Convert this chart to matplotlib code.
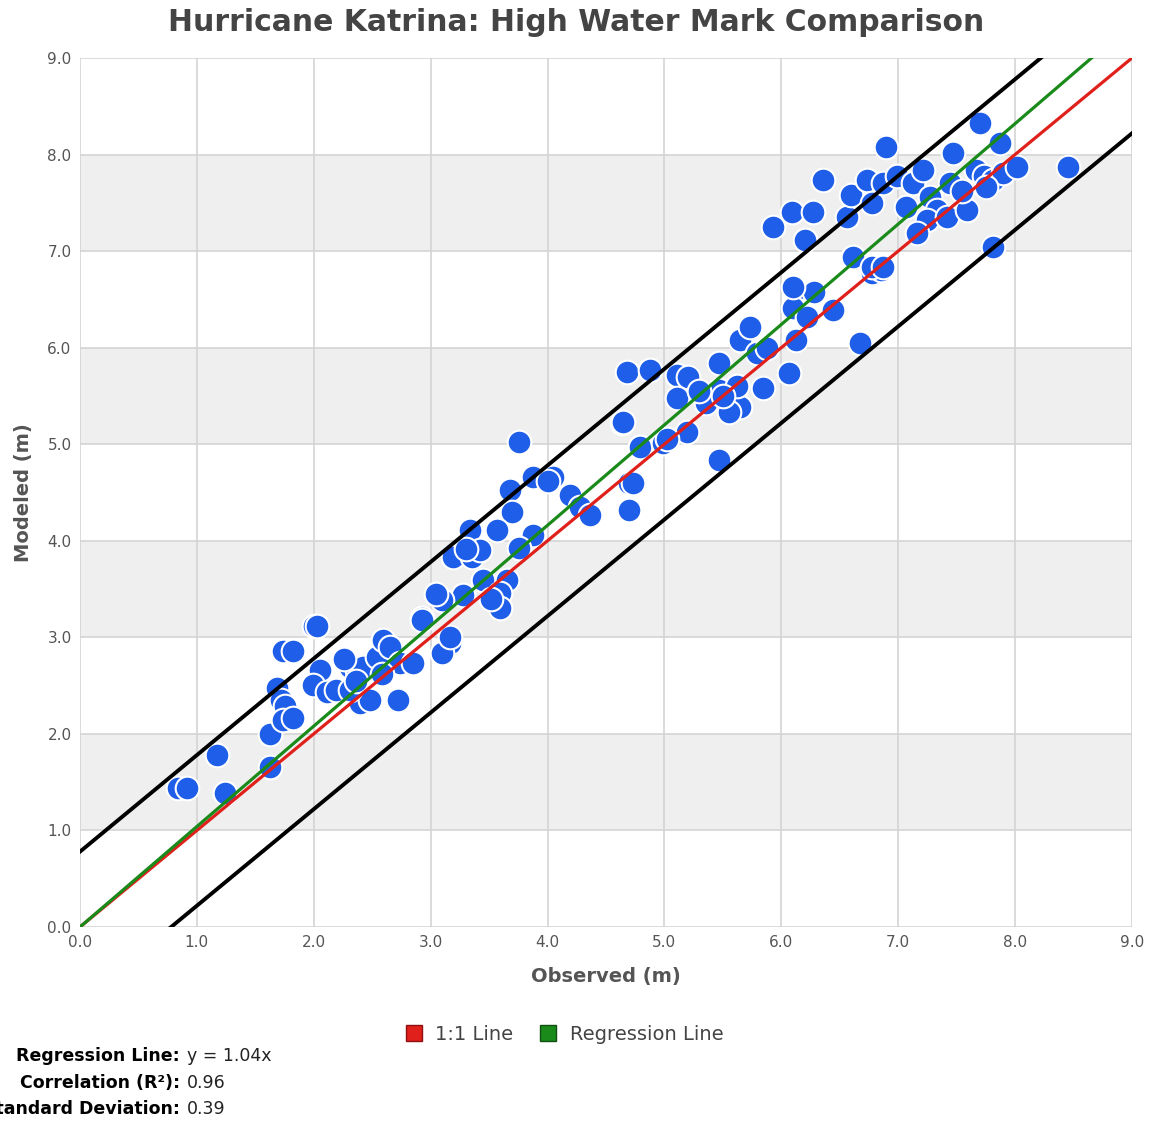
import numpy as np
import matplotlib.pyplot as plt
from matplotlib.patches import Rectangle
from matplotlib.lines import Line2D

# observed vs modeled high water marks (m)
observed = [
    0.84, 0.92, 1.17, 1.24, 1.63, 1.63, 1.69, 1.72, 1.75, 1.74, 1.82, 1.74, 1.82,
    2.00, 2.03, 2.05, 1.99, 2.11, 2.19, 2.31, 2.37, 2.42, 2.54, 2.59, 2.65, 2.74,
    2.85, 2.72, 2.40, 2.48, 2.31, 2.93, 3.17, 3.10, 2.26, 2.36, 2.58,
    3.76, 3.88, 4.05, 3.68, 4.19, 4.28, 4.36, 3.70, 3.57, 3.34, 3.88, 3.76, 3.19,
    3.35, 3.45, 3.65, 3.59, 3.59, 3.28, 3.10, 3.05, 2.93, 3.17, 4.70, 4.70, 4.64,
    4.79, 4.99, 3.42, 3.52, 3.30, 4.00,
    4.68, 4.88, 5.11, 5.20, 5.11, 4.65, 4.79, 4.99, 5.19, 4.73, 5.47, 5.65, 5.73,
    5.79, 5.88, 5.47, 5.36, 5.65, 5.55, 5.84, 6.07, 5.47, 6.12, 6.28, 6.10, 6.22,
    6.44, 6.13, 6.67, 6.78, 6.85, 5.30, 5.62, 5.02, 5.50,
    5.93, 6.09, 6.27, 6.20, 6.36, 6.56, 6.60, 6.73, 6.78, 6.90, 6.87, 6.99, 7.13,
    7.07, 7.21, 7.27, 7.33, 7.25, 7.16, 7.42, 7.47, 7.44, 7.59, 7.67, 7.73, 7.81,
    7.90, 8.02, 7.70, 7.87, 7.81, 8.45, 6.61, 6.78, 6.87, 6.10, 7.55, 7.75,
]
modeled = [
    1.44, 1.44, 1.78, 1.39, 1.66, 2.00, 2.48, 2.35, 2.29, 2.14, 2.16, 2.86, 2.86,
    3.12, 3.12, 2.66, 2.51, 2.43, 2.45, 2.69, 2.66, 2.69, 2.80, 2.97, 2.90, 2.73,
    2.73, 2.35, 2.32, 2.35, 2.45, 3.20, 2.94, 2.84, 2.78, 2.55, 2.62,
    5.02, 4.66, 4.66, 4.53, 4.47, 4.35, 4.27, 4.30, 4.11, 4.11, 4.06, 3.93, 3.83,
    3.83, 3.59, 3.59, 3.46, 3.30, 3.44, 3.39, 3.45, 3.18, 3.00, 4.60, 4.32, 5.22,
    4.97, 5.01, 3.90, 3.40, 3.92, 4.62,
    5.75, 5.77, 5.72, 5.70, 5.48, 5.23, 4.97, 5.01, 5.13, 4.60, 5.84, 6.08, 6.21,
    5.94, 6.00, 5.56, 5.43, 5.39, 5.33, 5.58, 5.74, 4.84, 6.60, 6.58, 6.41, 6.32,
    6.39, 6.08, 6.05, 6.77, 6.80, 5.55, 5.60, 5.05, 5.50,
    7.25, 7.40, 7.40, 7.12, 7.74, 7.35, 7.58, 7.74, 7.50, 8.08, 7.71, 7.78, 7.71,
    7.46, 7.84, 7.56, 7.43, 7.32, 7.19, 7.35, 8.02, 7.71, 7.43, 7.84, 7.78, 7.74,
    7.81, 7.87, 8.33, 8.12, 7.04, 7.87, 6.94, 6.84, 6.84, 6.63, 7.62, 7.66,
]

slope = 1.04
r2 = 0.96
std_dev = 0.39

fig = plt.figure(figsize=(11.52, 11.22), dpi=100)
ax = fig.add_axes([0.0694, 0.1738, 0.9132, 0.7745])

ax.set_xlim(0, 9)
ax.set_ylim(0, 9)

# alternating grey bands
for y0 in [1, 3, 5, 7]:
    ax.add_patch(Rectangle((0, y0), 9, 1, facecolor='#efefef', edgecolor='none', zorder=0))

ax.set_xticks(np.arange(0, 10, 1))
ax.set_yticks(np.arange(0, 10, 1))
ax.set_xticklabels([f"{v:.1f}" for v in range(10)])
ax.set_yticklabels([f"{v:.1f}" for v in range(10)])
ax.grid(True, color='#d4d4d4', linewidth=1.2, zorder=1)
ax.set_axisbelow(True)
ax.tick_params(length=0, labelsize=11, labelcolor='#555555', pad=6)
for s in ax.spines.values():
    s.set_visible(False)

ax.scatter(observed, modeled, s=290, color='#1f5ee8', edgecolors='white',
           linewidths=1.5, zorder=3)

xs = np.array([0, 9])
ax.plot(xs, xs, color='#e0201b', linewidth=2.3, zorder=4)
ax.plot(xs, slope * xs, color='#1a8a1a', linewidth=2.3, zorder=4)
ax.plot(xs, xs + 2 * std_dev, color='black', linewidth=2.8, zorder=4)
ax.plot(xs, xs - 2 * std_dev, color='black', linewidth=2.8, zorder=4)

ax.set_xlabel("Observed (m)", fontsize=14, color='#555555', fontweight='bold', labelpad=12)
ax.set_ylabel("Modeled (m)", fontsize=14, color='#555555', fontweight='bold', labelpad=10)
fig.suptitle("Hurricane Katrina: High Water Mark Comparison", fontsize=21.5,
             fontweight='bold', color='#444444', y=0.993)

handles = [
    Line2D([], [], marker='s', linestyle='none', markersize=11,
           markerfacecolor='#e0201b', markeredgecolor='#901010'),
    Line2D([], [], marker='s', linestyle='none', markersize=11,
           markerfacecolor='#1a8a1a', markeredgecolor='#105010'),
]
fig.legend(handles, ["1:1 Line", "Regression Line"], loc='center',
           bbox_to_anchor=(0.485, 0.078), ncol=2, frameon=False, fontsize=14,
           handletextpad=0.1, columnspacing=0.8, labelcolor='#444444')

# statistics block
labels = ["Regression Line:", "Correlation (R\u00b2):", "Standard Deviation:"]
values = [f"y = {slope:.2f}x", f"{r2:.2f}", f"{std_dev:.2f}"]
for i, (lab, val) in enumerate(zip(labels, values)):
    yy = 1 - (1056 + i * 26.5) / 1122
    fig.text(180 / 1152, yy, lab, ha='right', va='center', fontsize=12.5,
             fontweight='bold', color='black')
    fig.text(187 / 1152, yy, val, ha='left', va='center', fontsize=12.5, color='#222222')

fig.savefig("out.png", dpi=100)
